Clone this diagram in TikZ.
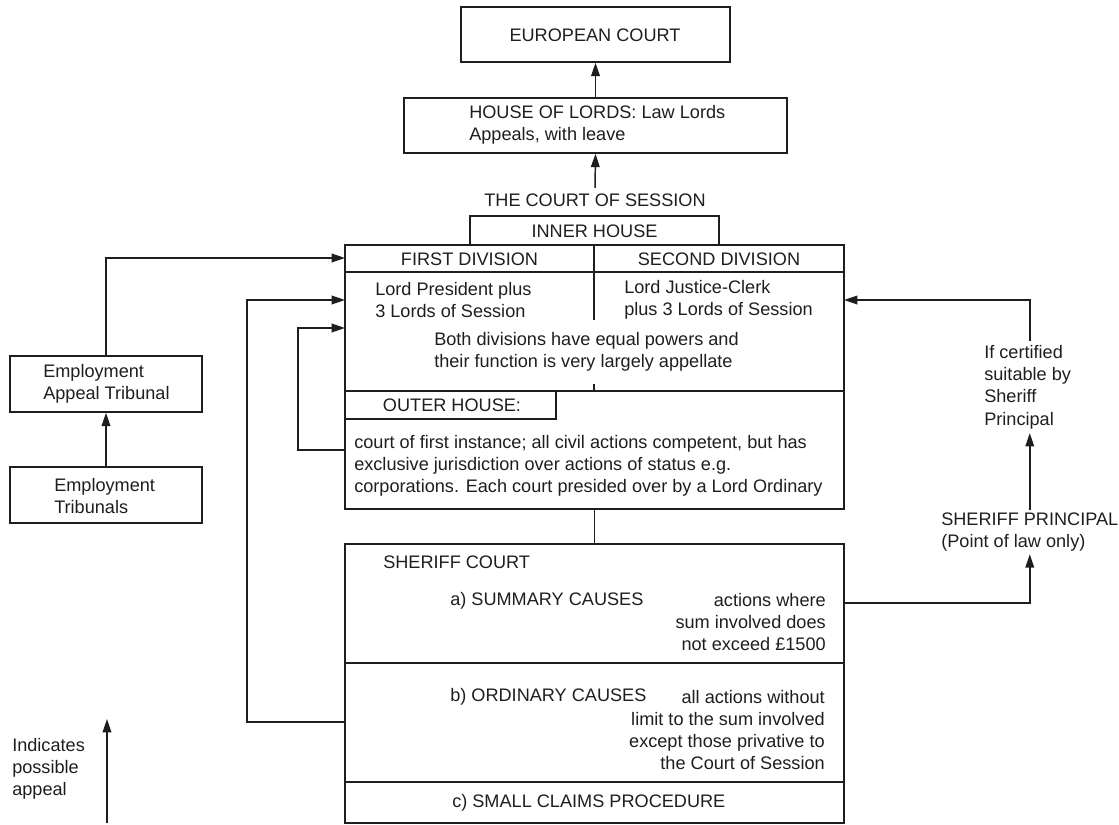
\documentclass[tikz,border=0pt]{standalone}
\usepackage{fontspec}
\setmainfont{Liberation Sans}
\usetikzlibrary{fit,arrows.meta}
\definecolor{ink}{HTML}{1E1E1E}
\begin{document}
\begin{tikzpicture}[x=0.75pt,y=-0.75pt,
  every node/.style={font=\fontsize{13.6pt}{16.7pt}\selectfont, text=ink, inner sep=0pt},
  box/.style={draw=ink, line width=1.1pt, inner sep=0pt},
  ln/.style={draw=ink, line width=1.1pt},
  arr/.style={draw=ink, line width=1.1pt, -{Triangle[length=10pt,width=6.5pt]}},
  lt/.style={anchor=west, align=left},
  rt/.style={anchor=east, align=right}]
\useasboundingbox (0,0) rectangle (1119,824);

% top boxes
\node[box, fit={(461,7)(730,62)}] (euro) {};
\node (eurot) at (595,35) {EUROPEAN COURT};
\node[box, fit={(404,98)(787,153)}] (hol) {};
\node[lt] (holt) at (469,125) {HOUSE OF LORDS: Law Lords\\Appeals, with leave};
\draw[arr] (hol.north) -- (euro.south);
\node (cost) at (595,200) {THE COURT OF SESSION};
\draw[arr] ([yshift=4pt]cost.north) -- (hol.south);

% court of session
\node[box, fit={(470,216)(719,245)}] (inner) {};
\node (innert) at (594.5,231) {INNER HOUSE};
\node[box, fit={(345,245)(844,509)}] (cos) {};
\draw[ln] (345,272) -- (844,272);
\draw[ln] (594,245) -- (594,320);
\draw[ln] (594,384) -- (594,391);
\draw[ln] (345,391) -- (844,391);
\node (fd) at (469.5,259) {FIRST DIVISION};
\node (sd) at (719,259) {SECOND DIVISION};
\node[lt] (lp) at (375,300) {Lord President plus\\3 Lords of Session};
\node[lt] (ljc) at (624,300) {Lord Justice-Clerk\\plus 3 Lords of Session};
\node[lt] (both) at (434,352) {Both divisions have equal powers and\\their function is very largely appellate};
\node[box, fit={(345,391)(556,419)}] (outer) {};
\node (outert) at (452,405) {OUTER HOUSE:};
\node[lt] (ohtext) at (354,466) {court of first instance; all civil actions competent, but has\\exclusive jurisdiction over actions of status e.g.\\corporations. Each court presided over by a Lord Ordinary};

% sheriff court
\node[box, fit={(345,544)(844,823)}] (sheriff) {};
\draw[ln] (cos.south) -- (sheriff.north);
\draw[ln] (345,663) -- (844,663);
\draw[ln] (345,782) -- (844,782);
\node[lt] (sct) at (383,562) {SHERIFF COURT};
\node[lt] (sca) at (450,601) {a) SUMMARY CAUSES};
\node[rt] (scad) at (826,622) {actions where\\sum involved does\\not exceed £1500};
\node[lt] (scb) at (450,697) {b) ORDINARY CAUSES};
\node[rt] (scbd) at (825,730) {all actions without\\limit to the sum involved\\except those privative to\\the Court of Session};
\node[lt] (scc) at (452,803) {c) SMALL CLAIMS PROCEDURE};

% employment tribunals
\node[box, fit={(10,356)(202,412)}] (eat) {};
\node[lt] (eatt) at (43,384) {Employment\\Appeal Tribunal};
\node[box, fit={(10,467)(202,523)}] (et) {};
\node[lt] (ett) at (54,496) {Employment\\Tribunals};
\draw[arr] (et.north) -- (eat.south);
\coordinate (inFD) at (345,258);
\draw[arr] (eat.north) |- (inFD);

% ordinary causes appeal
\coordinate (ordL) at (345,722);
\coordinate (inLP) at (345,300);
\draw[arr] (ordL) -- ++(-98,0) |- (inLP);

% outer house appeal
\coordinate (ohL) at (345,450);
\coordinate (inBoth) at (345,328);
\draw[arr] (ohL) -- ++(-47,0) |- (inBoth);

% right side
\node[lt] (sp) at (941,532) {SHERIFF PRINCIPAL\\(Point of law only)};
\node[lt] (cert) at (984,387) {If certified\\suitable by\\Sheriff\\Principal};
\coordinate (shR) at (844,603);
\draw[arr] (shR) -| ([yshift=-2pt]sp.south);
\draw[arr] ([yshift=2pt]sp.north) -- ([yshift=-3pt]cert.south -| sp.north);
\coordinate (inSD) at (844,300);
\draw[arr] ([yshift=3pt]cert.north -| sp.north) |- (inSD);

% legend
\coordinate (lgB) at (107,823);
\coordinate (lgT) at (107,719);
\draw[arr] (lgB) -- (lgT);
\node[lt] (lgt) at (12,769) {Indicates\\possible\\appeal};
\end{tikzpicture}
\end{document}
